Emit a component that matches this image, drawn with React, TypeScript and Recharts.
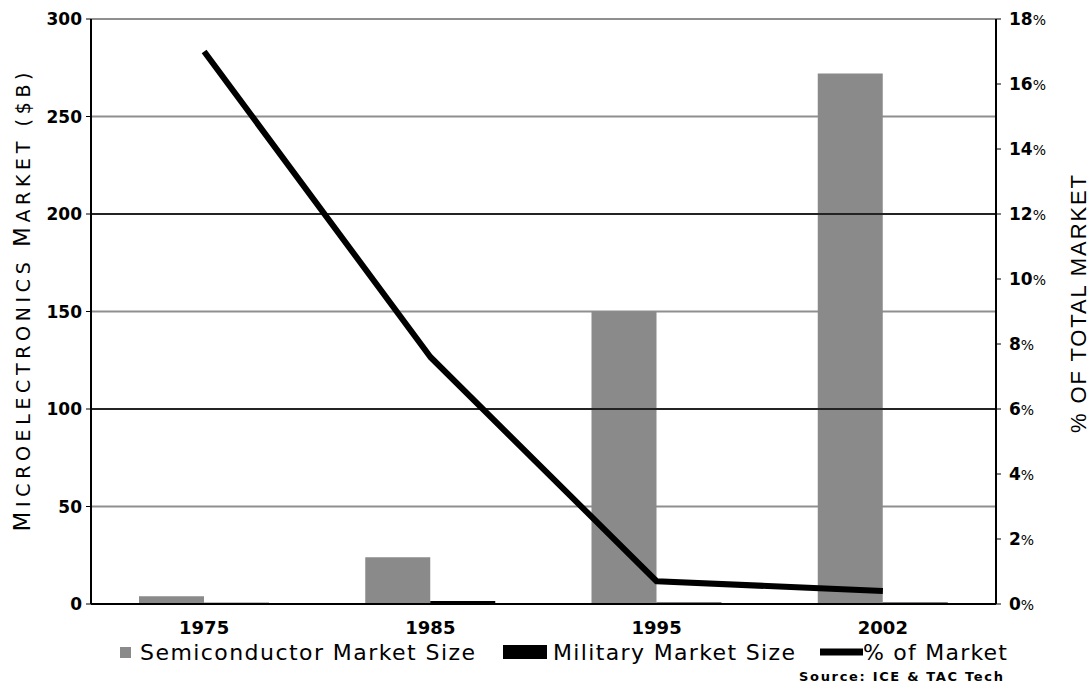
import React from 'react';
import {
  ComposedChart,
  Bar,
  Line,
  XAxis,
  YAxis,
  CartesianGrid,
  ReferenceLine,
} from 'recharts';

const years = ['1975', '1985', '1995', '2002'];
const semiconductorSize = [4, 24, 150, 272];
const militarySize = [0.7, 1.5, 0.8, 0.8];
const pctOfMarket = [17, 7.6, 0.7, 0.4];
const leftTicks = [0, 50, 100, 150, 200, 250, 300];
const rightTicks = [0, 2, 4, 6, 8, 10, 12, 14, 16, 18];
const blackGridValues = [100, 200];

const data = years.map((year, i) => ({
  year,
  semi: semiconductorSize[i],
  military: militarySize[i],
  pct: pctOfMarket[i],
}));

const FONT = '"DejaVu Sans", Verdana, sans-serif';
const BAR_GRAY = '#8a8a8a';

const YearTick = ({ x, y, payload }: any) => (
  <text x={x} y={y + 22} textAnchor="middle" fontFamily={FONT} fontWeight="bold" fontSize={18} fill="#000">
    {payload.value}
  </text>
);

const LeftTick = ({ x, y, payload }: any) => (
  <text x={x} y={y} dy="0.36em" textAnchor="end" fontFamily={FONT} fontWeight="bold" fontSize={17} fill="#000">
    {payload.value}
  </text>
);

const RightTick = ({ x, y, payload }: any) => (
  <text x={x} y={y} dy="0.36em" textAnchor="start" fontFamily={FONT} fill="#000">
    <tspan fontWeight="bold" fontSize={17}>{payload.value}</tspan>
    <tspan fontSize={14}>%</tspan>
  </text>
);

export default function App() {
  return (
    <div style={{ position: 'absolute', left: 0, top: 0, width: 1091, height: 687, background: '#fff' }}>
      <ComposedChart
        width={1091}
        height={687}
        data={data}
        margin={{ top: 19, right: 0, bottom: 0, left: 0 }}
        barCategoryGap={48}
        barGap={0}
      >
        <CartesianGrid yAxisId="left" vertical={false} stroke="#8f8f8f" strokeWidth={2} />
        {blackGridValues.map(v => (
          <ReferenceLine key={v} yAxisId="left" y={v} stroke="#000" strokeWidth={1.5} />
        ))}
        <XAxis
          dataKey="year"
          height={83}
          tick={<YearTick />}
          tickLine={false}
          axisLine={{ stroke: '#000', strokeWidth: 2 }}
        />
        <YAxis
          yAxisId="left"
          orientation="left"
          width={91}
          domain={[0, 300]}
          ticks={leftTicks}
          interval={0}
          tick={<LeftTick />}
          tickSize={5}
          tickMargin={4}
          tickLine={{ stroke: '#000' }}
          axisLine={{ stroke: '#000', strokeWidth: 2 }}
        />
        <YAxis
          yAxisId="right"
          orientation="right"
          width={95}
          domain={[0, 18]}
          ticks={rightTicks}
          interval={0}
          tick={<RightTick />}
          tickSize={5}
          tickMargin={8}
          tickLine={{ stroke: '#000' }}
          axisLine={{ stroke: '#000', strokeWidth: 2 }}
        />
        <Bar yAxisId="left" dataKey="semi" fill={BAR_GRAY} isAnimationActive={false} />
        <Bar yAxisId="left" dataKey="military" fill="#000" isAnimationActive={false} />
        <Line
          yAxisId="right"
          dataKey="pct"
          type="linear"
          stroke="#000"
          strokeWidth={6}
          strokeLinejoin="round"
          dot={false}
          activeDot={false}
          isAnimationActive={false}
        />
      </ComposedChart>

      <svg
        width={1091}
        height={687}
        style={{ position: 'absolute', left: 0, top: 0, pointerEvents: 'none' }}
      >
        {/* axis titles */}
        <text
          transform="translate(30 302) rotate(-90)"
          textAnchor="middle"
          fontFamily={FONT}
          fontSize={19}
          fill="#000"
          textLength={459}
          lengthAdjust="spacing"
        >
          <tspan fontSize={23}>M</tspan>ICROELECTRONICS <tspan fontSize={23}>M</tspan>ARKET ($B)
        </text>
        <text
          transform="translate(1086 304) rotate(-90)"
          textAnchor="middle"
          fontFamily='"Liberation Sans", Arial, sans-serif'
          fontSize={22}
          fill="#000"
          textLength={258}
          lengthAdjust="spacing"
        >
          % OF TOTAL MARKET
        </text>

        {/* legend */}
        <rect x={120} y={647} width={11} height={11} fill={BAR_GRAY} />
        <text x={140} y={660} fontFamily={FONT} fontSize={22} fill="#000" textLength={335} lengthAdjust="spacing">
          Semiconductor Market Size
        </text>
        <rect x={503} y={645} width={44} height={14} fill="#000" />
        <text x={553} y={660} fontFamily={FONT} fontSize={22} fill="#000" textLength={242} lengthAdjust="spacing">
          Military Market Size
        </text>
        <line x1={820} y1={652} x2={863} y2={652} stroke="#000" strokeWidth={7} />
        <text x={863} y={660} fontFamily={FONT} fontSize={22} fill="#000" textLength={144} lengthAdjust="spacing">
          % of Market
        </text>
        <text x={799} y={681} fontFamily={FONT} fontSize={13} fontWeight="bold" fill="#000" textLength={204} lengthAdjust="spacing">
          Source: ICE &amp; TAC Tech
        </text>
      </svg>
    </div>
  );
}
